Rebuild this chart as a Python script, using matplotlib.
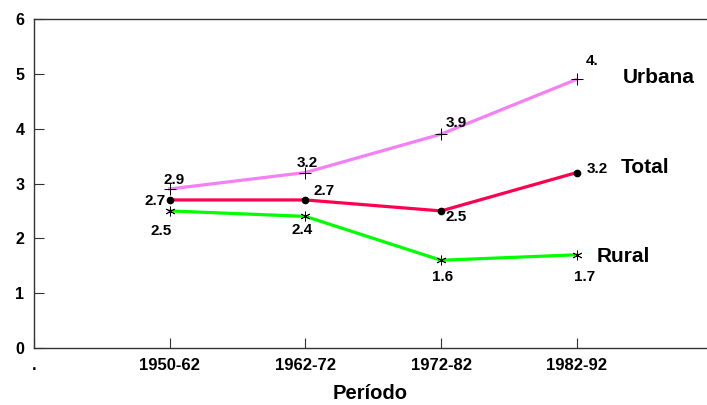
import matplotlib
matplotlib.use("Agg")
import matplotlib.pyplot as plt
import numpy as np

plt.rcParams['font.family'] = ['Liberation Sans', 'DejaVu Sans']
plt.rcParams['font.weight'] = 'bold'

# data
periodos = ["1950-62", "1962-72", "1972-82", "1982-92"]
urbana = [2.9, 3.2, 3.9, 4.9]
total = [2.7, 2.7, 2.5, 3.2]
rural = [2.5, 2.4, 1.6, 1.7]
urbana_txt = ["2.9", "3.2", "3.9", "4."]
total_txt = ["2.7", "2.7", "2.5", "3.2"]
rural_txt = ["2.5", "2.4", "1.6", "1.7"]

x = np.arange(1, len(periodos) + 1)

fig = plt.figure(figsize=(7.07, 4.05), dpi=100)
ax = fig.add_axes([34/707, 1 - 348/405, (707 - 34)/707, (348 - 19)/405])

ax.plot(x, urbana, color="#f57ff5", lw=2.3, marker="+", ms=9, mec="black", mew=0.7, zorder=2)
ax.plot(x, rural, color="#00ff00", lw=2.3, marker=(6, 2, 0), ms=7, mec="black", mew=0.6, zorder=2)
ax.plot(x, total, color="#ff0050", lw=2.3, marker="o", ms=4.5, mec="black", mfc="black", zorder=3)

# value labels, offsets in pixels
off_u = [(4, 9), (2, 10), (15, 11), (15, 18)]
off_t = [(-15, -1), (19, 9), (15, -6), (21, 4)]
off_r = [(-9, -20), (-3, -14), (2, -17), (8, -22)]
for vals, txts, offs in [(urbana, urbana_txt, off_u), (total, total_txt, off_t), (rural, rural_txt, off_r)]:
    for xi, v, t, o in zip(x, vals, txts, offs):
        ax.annotate(t, (xi, v), xytext=o, textcoords="offset pixels",
                    ha="center", va="center", fontsize=11, fontweight="bold")

# series names
ax.annotate("Urbana", (x[-1], urbana[-1]), xytext=(82, 2), textcoords="offset pixels",
            ha="center", va="center", fontsize=15, fontweight="bold")
ax.annotate("Total", (x[-1], total[-1]), xytext=(68, 5), textcoords="offset pixels",
            ha="center", va="center", fontsize=15, fontweight="bold")
ax.annotate("Rural", (x[-1], rural[-1]), xytext=(47, -2), textcoords="offset pixels",
            ha="center", va="center", fontsize=15, fontweight="bold")

ax.set_xlim(0, 4.96)
ax.set_ylim(0, 6)
ax.set_xticks([0] + list(x))
ax.set_xticklabels(["."] + periodos, fontsize=12, fontweight="bold")
ax.set_yticks(range(7))
ax.set_yticklabels([str(i) for i in range(7)], fontsize=11.5, fontweight="bold")
ax.tick_params(direction="in", length=7, width=0.8, color="#333333")
ax.tick_params(axis="x", pad=7)
ax.tick_params(axis="y", pad=7)

for s in ["left", "bottom", "top"]:
    ax.spines[s].set_color("#333333")
    ax.spines[s].set_linewidth(1)
ax.spines["right"].set_visible(False)

ax.set_xlabel("Período", fontsize=14.5, fontweight="bold", labelpad=8)

fig.savefig("out.png", dpi=100)
